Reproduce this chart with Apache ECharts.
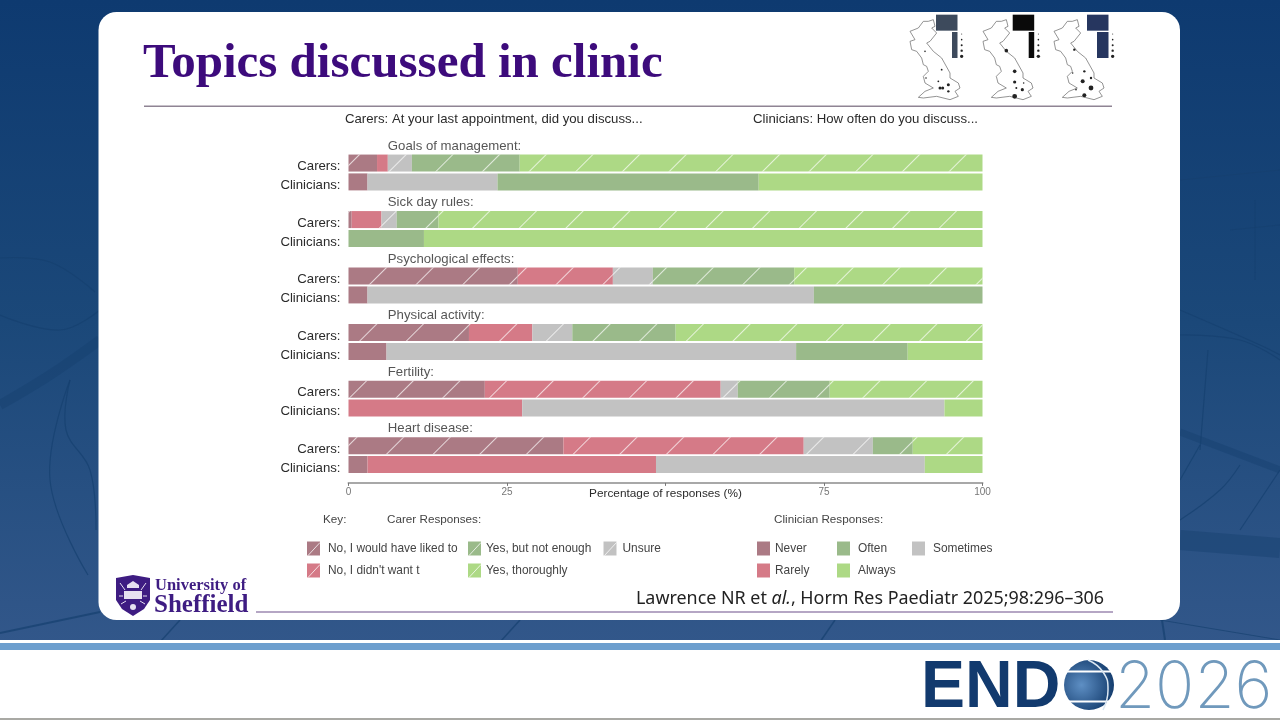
<!DOCTYPE html>
<html><head><meta charset="utf-8">
<style>html,body{margin:0;padding:0;background:#fff}#c{width:1280px;height:720px}</style>
<script src="https://cdn.jsdelivr.net/npm/echarts@6/dist/echarts.min.js"></script>
</head><body><div id="c"></div>
<script>
// ---------- data ----------
const topics = ['Goals of management:','Sick day rules:','Psychological effects:','Physical activity:','Fertility:','Heart disease:'];
const rowLabels = ['Carers:','Clinicians:'];
const valueTicks = [0,25,50,75,100];
// carers' rows, one value per topic
const carerLiked    = [4.5, 0.5, 26.7, 19.0, 21.5, 33.9];
const carerDidnt    = [1.7, 4.7, 15.0, 10.0, 37.2, 37.9];
const carerUnsure   = [3.8, 2.4,  6.3,  6.3,  2.7, 10.9];
const carerNotEnough= [17.0,6.6, 22.3, 16.3, 14.5,  6.3];
const carerThorough = [73.0,85.8,29.7, 48.4, 24.1, 11.0];
// clinicians' rows
const clinNever     = [3.0, 0,    3.0,  6.0,  0,    3.0];
const clinRarely    = [0,   0,    0,    0,   27.4, 45.5];
const clinSometimes = [20.5,0,   70.4, 64.6, 66.6, 42.4];
const clinOften     = [41.2,11.9,26.6, 17.6,  0,    0];
const clinAlways    = [35.3,88.1, 0,   11.8,  6.0,  9.1];

const carerNames = ['No, I would have liked to',"No, I didn't want t",'Unsure','Yes, but not enough','Yes, thoroughly'];
const clinNames  = ['Never','Rarely','Sometimes','Often','Always'];
const carerData  = [carerLiked,carerDidnt,carerUnsure,carerNotEnough,carerThorough];
const clinData   = [clinNever,clinRarely,clinSometimes,clinOften,clinAlways];
const palette    = ['#ab7a84','#d57a87','#c2c2c2','#9aba8a','#add985'];

// ---------- rows: heading slot, carers, clinicians ----------
const categories = [];
topics.forEach(t => categories.push(t, rowLabels[0], rowLabels[1]));
const carerRow = arr => topics.flatMap((_,i) => [null, arr[i], null]);
const clinRow  = arr => topics.flatMap((_,i) => [null, null, arr[i] || null]);

const hatch = {symbol:'rect', symbolSize:1, dashArrayX:[1,0], dashArrayY:[1,32], rotation:-Math.PI/4, color:'rgba(255,255,255,0.7)'};
const TXT = '"Liberation Sans",Arial,sans-serif';

const series = [];
carerNames.forEach((n,i)=>series.push({name:n,type:'bar',stack:'s',barWidth:17,data:carerRow(carerData[i]),
  itemStyle:{color:palette[i],decal:hatch},silent:true}));
clinNames.forEach((n,i)=>series.push({name:n,type:'bar',stack:'s',barWidth:17,data:clinRow(clinData[i]),
  itemStyle:{color:palette[i]},silent:true}));
series.push({type:'scatter',symbolSize:0,silent:true,
  data:topics.map((t,i)=>({value:[6.2,i*3],name:t})),
  label:{show:true,position:'right',distance:0,offset:[0,2],formatter:p=>p.name,color:'#2a2a2a',fontFamily:TXT,fontSize:13.2}});

function legend(left,names,gap,hatched){return {left,top:541.5,padding:0,orient:'vertical',itemWidth:13,itemHeight:14,itemGap:8,selectedMode:false,
  data:names.map(n=>hatched?{name:n,itemStyle:{decal:{symbol:'none'}}}:{name:n}),icon:'rect',textStyle:{color:'#444',fontFamily:TXT,fontSize:11.9,padding:[0,0,0,gap]}};}

// ---------- slide furniture ----------
const veins=[
 {p:[[0,258],[50,262],[95,292]],w:1.2},{p:[[0,315],[60,330],[100,310]],w:1.2},{p:[[0,405],[50,375],[100,340]],w:10},
 {p:[[70,380],[66,430],[90,470],[96,530]],w:1.2},{p:[[70,380],[50,480],[88,575]],w:1.2},{p:[[0,633],[100,612]],w:2},
 {p:[[1180,432],[1280,470]],w:7},{p:[[1180,540],[1280,548]],w:20},{p:[[1180,310],[1260,345],[1280,355]],w:1.2},
 {p:[[1180,335],[1240,340],[1280,360]],w:1.2},{p:[[1180,180],[1280,170]],w:1},{p:[[1208,350],[1200,450]],w:1.2},
 {p:[[1180,520],[1220,490],[1240,465]],w:1.2},{p:[[1180,480],[1200,445]],w:1.2},{p:[[1240,530],[1280,470]],w:1.2},
 {p:[[1230,230],[1280,225]],w:1},{p:[[1255,200],[1255,280]],w:1},{p:[[1165,640],[1162,620]],w:2},
 {p:[[160,642],[180,620]],w:1.5},{p:[[1160,620],[1280,640]],w:1},{p:[[500,642],[520,620]],w:1.5},{p:[[820,642],[835,620]],w:1.5}
];
const gbShape=[[85,40],[100,35],[105,55],[95,60],[110,75],[90,100],[80,105],[100,130],[125,150],[150,195],[150,210],[175,225],[180,240],[165,250],[175,265],[150,275],[110,265],[70,270],[55,268],[75,250],[100,240],[75,225],[70,205],[85,190],[80,175],[70,170],[65,150],[50,130],[35,125],[30,100],[45,95],[30,70],[55,60],[70,40]];
const maps=[
 {dx:0,bx:0,box:'#3d4a5c',lw:5.5,dots:[[125,185,.9],[115,220,.9],[78,210,.8],[120,240,1.5],[145,230,1.5],[128,240,1.5],[145,250,1.2],[75,130,.8]]},
 {dx:73,bx:76.7,box:'#0a0a0a',lw:5.5,dots:[[100,128,1.8],[125,190,1.8],[125,222,1.6],[125,265,2.4],[130,240,1],[148,245,1.6],[152,225,.8]]},
 {dx:144,bx:151,box:'#26365f',lw:11.5,lx:-6,dots:[[91,125,1.2],[121,190,1.2],[116,220,2],[141,210,1.2],[141,240,2.4],[121,262,2],[96,245,.8],[86,195,.8]]}
];
const legendDots=[[78,.5],[95,.8],[112,1],[128,1.2],[145,1.7]];
const g=[];
const mx=x=>900+x/3, my=y=>8+y/3;
g.push({type:'rect',shape:{x:0,y:0,width:1280,height:645},style:{fill:{type:'linear',x:0,y:0,x2:0,y2:1,colorStops:[{offset:0,color:'#0e3a70'},{offset:.5,color:'#1b4879'},{offset:1,color:'#32578a'}]}}});
veins.forEach(v=>g.push({type:'polyline',shape:{points:v.p,smooth:.4},style:{stroke:'#16406f',lineWidth:v.w,opacity:v.w>5?.45:.7,fill:null}}));
g.push({type:'rect',shape:{x:0,y:640,width:1280,height:80},style:{fill:'#fff'}});
g.push({type:'rect',shape:{x:0,y:643,width:1280,height:7},style:{fill:'#6d9fce'}});
g.push({type:'rect',shape:{x:0,y:718,width:1280,height:2},style:{fill:'#a9a9a4'}});
g.push({type:'rect',shape:{x:98.5,y:12,width:1081.5,height:608,r:18},style:{fill:'#fff'}});
const T=(x,y,text,font,fill)=>g.push({type:'text',x,y,style:{text,font,fill,verticalAlign:'middle'}});
T(143,64,'Topics discussed in clinic','bold 49px "Liberation Serif",serif','#3d0b7c');
g.push({type:'rect',shape:{x:144,y:105.5,width:968,height:1.5},style:{fill:'#8f8494'}});
g.push({type:'rect',shape:{x:256,y:611.5,width:857,height:1},style:{fill:'#6d4f8a'}});
maps.forEach(m=>{
  g.push({type:'polygon',shape:{points:gbShape.map(([x,y])=>[mx(x)+m.dx,my(y)])},style:{fill:'#fff',stroke:'#666',lineWidth:.7}});
  m.dots.forEach(([x,y,r])=>g.push({type:'circle',shape:{cx:mx(x)+m.dx,cy:my(y),r},style:{fill:'#222'}}));
  g.push({type:'rect',shape:{x:mx(108)+m.bx,y:my(20),width:21.5,height:16},style:{fill:m.box}});
  g.push({type:'rect',shape:{x:mx(156)+m.bx+(m.lx||0),y:my(72),width:m.lw,height:26},style:{fill:m.box}});
  legendDots.forEach(([y,r])=>g.push({type:'circle',shape:{cx:mx(185)+m.bx,cy:my(y),r},style:{fill:'#222'}}));
});
// slashes across the carer legend swatches
[[307,541.5],[307,563.5],[468,541.5],[468,563.5],[603.5,541.5]].forEach(([x,y])=>
  g.push({type:'line',z:10,shape:{x1:x+1,y1:y+14,x2:x+13,y2:y+1},style:{stroke:'rgba(255,255,255,0.75)',lineWidth:1}}));
const F14='13.2px '+TXT, F13='11.7px '+TXT;
T(345,119,'Carers: At your last appointment, did you discuss...',F14,'#2a2a2a');
T(753,119,'Clinicians: How often do you discuss...',F14,'#2a2a2a');
T(323,520,'Key:',F13,'#444');
T(387,520,'Carer Responses:',F13,'#444');
T(774,520,'Clinician Responses:',F13,'#444');
g.push({type:'text',x:636,y:599,style:{verticalAlign:'middle',text:'{a|Lawrence NR et }{i|al.}{a|, Horm Res Paediatr 2025;98:296–306}',
  rich:{a:{font:'17.9px "Noto Sans",sans-serif',fill:'#222'},i:{font:'italic 17.9px "Noto Sans",sans-serif',fill:'#222'}}}});
// Sheffield crest and wordmark
g.push({type:'polygon',shape:{points:[[116,578],[133,575],[150,578],[150,600],[144,609],[133,616],[122,609],[116,600]]},style:{fill:'#3e1c82'}});
g.push({type:'rect',shape:{x:124,y:591,width:18,height:8},style:{fill:'#e6e0f0'}});
g.push({type:'polygon',shape:{points:[[127,585],[133,581],[139,585],[139,588],[127,588]]},style:{fill:'#e6e0f0'}});
g.push({type:'circle',shape:{cx:133,cy:607,r:3},style:{fill:'#e6e0f0'}});
[[120,583,125,590],[146,583,141,590],[119,596,123,596],[147,596,143,596],[121,604,126,601],[145,604,140,601]].forEach(([a,b,c,d])=>
  g.push({type:'line',shape:{x1:a,y1:b,x2:c,y2:d},style:{stroke:'#e6e0f0',lineWidth:1}}));
T(155,586,'University of','bold 16.5px "Liberation Serif",serif','#3e1c82');
T(154,606,'Sheffield','bold 25px "Liberation Serif",serif','#3e1c82');
// ENDO 2026 logo
T(921,689,'END','bold 66px "Liberation Sans",sans-serif','#123a6e');
g.push({type:'circle',shape:{cx:1089,cy:685,r:25},style:{fill:{type:'radial',x:.35,y:.5,r:.7,colorStops:[{offset:0,color:'#5e8fc4'},{offset:1,color:'#0f3768'}]}}});
g.push({type:'rect',shape:{x:1062,y:670.5,width:54,height:2},style:{fill:'#fff'}});
g.push({type:'rect',shape:{x:1062,y:700.5,width:54,height:2},style:{fill:'#fff'}});
g.push({type:'polyline',shape:{points:[[1088,660],[1103,672],[1108,690],[1103,710]],smooth:.5},style:{stroke:'#dbe7f2',lineWidth:1.5,fill:null}});
T(1115,688,'2026','200 65px Inter,sans-serif','#7099bc');

// ---------- chart ----------
const chart=echarts.init(document.getElementById('c'),null,{renderer:'canvas'});
chart.setOption({
  animation:false,
  grid:{left:348.5,right:297.5,top:134.8,height:339.1,containLabel:false},
  xAxis:{type:'value',min:0,max:100,interval:25,offset:9,splitLine:{show:false},
    name:'Percentage of responses (%)',nameLocation:'middle',nameGap:5,nameMoveOverlap:false,
    nameTextStyle:{color:'#2a2a2a',fontFamily:TXT,fontSize:11.8,verticalAlign:'top'},
    axisLine:{show:true,lineStyle:{color:'#a8a8a8',width:2}},
    axisTick:{show:true,length:3,lineStyle:{color:'#777'}},
    axisLabel:{margin:4,color:'#777',fontFamily:TXT,fontSize:10,formatter:v=>(valueTicks.includes(v)&&v!==50)?String(v):''}},
  yAxis:{type:'category',inverse:true,data:categories,axisLine:{show:false},axisTick:{show:false},splitLine:{show:false},
    axisLabel:{interval:0,margin:8,formatter:v=>rowLabels.includes(v)?'{a|'+v+'}':'',
      rich:{a:{color:'#2a2a2a',fontFamily:TXT,fontSize:13.2,padding:[7,0,0,0]}}}},
  graphic:{elements:g},
  legend:[legend(307,[carerNames[0],carerNames[1]],3,true),legend(468,[carerNames[3],carerNames[4]],0,true),legend(603.5,[carerNames[2]],1,true),
          legend(757,[clinNames[0],clinNames[1]],0),legend(837,[clinNames[3],clinNames[4]],3),legend(912,[clinNames[2]],3)],
  series
});
</script></body></html>
